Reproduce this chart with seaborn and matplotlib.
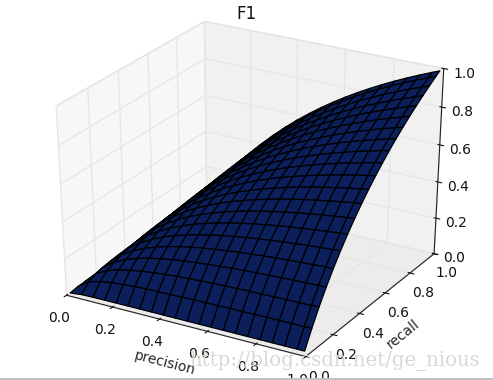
import numpy as np
import pandas as pd
import seaborn as sns
import matplotlib
matplotlib.use("Agg")
import matplotlib.pyplot as plt
from matplotlib.patches import Rectangle

sns.set_style("white")

grid_values = [0.01, 0.06, 0.11, 0.16, 0.21, 0.26, 0.31, 0.36, 0.41, 0.46, 0.51,
               0.56, 0.61, 0.66, 0.71, 0.76, 0.81, 0.86, 0.91, 0.96, 0.99]
# Upper triangle of the F1 surface, in percent, read row by row
f1_rows = [
    [1, 1.71, 1.83, 1.88, 1.91, 1.93, 1.94, 1.95, 1.95, 1.96, 1.96, 1.97, 1.97, 1.97, 1.97, 1.97, 1.98, 1.98, 1.98, 1.98, 1.98],
    [6, 7.76, 8.73, 9.33, 9.75, 10.05, 10.29, 10.47, 10.62, 10.74, 10.84, 10.93, 11.0, 11.06, 11.12, 11.17, 11.22, 11.26, 11.29, 11.31],
    [11, 13.04, 14.44, 15.46, 16.24, 16.85, 17.35, 17.75, 18.10, 18.39, 18.64, 18.86, 19.05, 19.22, 19.37, 19.51, 19.63, 19.74, 19.80],
    [16, 18.16, 19.81, 21.11, 22.15, 23.02, 23.74, 24.36, 24.89, 25.35, 25.76, 26.11, 26.43, 26.72, 26.98, 27.21, 27.43, 27.55],
    [21, 23.23, 25.04, 26.53, 27.77, 28.84, 29.75, 30.55, 31.24, 31.86, 32.41, 32.91, 33.35, 33.76, 34.13, 34.46, 34.65],
    [26, 28.28, 30.19, 31.82, 33.22, 34.44, 35.51, 36.46, 37.30, 38.06, 38.75, 39.36, 39.93, 40.44, 40.92, 41.18],
    [31, 33.31, 35.31, 37.04, 38.56, 39.91, 41.11, 42.19, 43.16, 44.04, 44.84, 45.57, 46.25, 46.87, 47.22],
    [36, 38.34, 40.39, 42.21, 43.83, 45.28, 46.59, 47.78, 48.86, 49.85, 50.75, 51.59, 52.36, 52.80],
    [41, 43.36, 45.46, 47.34, 49.04, 50.58, 51.98, 53.26, 54.44, 55.53, 56.53, 57.46, 57.99],
    [46, 48.37, 50.51, 52.45, 54.21, 55.83, 57.31, 58.68, 59.94, 61.11, 62.20, 62.81],
    [51, 53.38, 55.55, 57.54, 59.36, 61.04, 62.59, 64.03, 65.37, 66.61, 67.32],
    [56, 58.39, 60.59, 62.61, 64.48, 66.22, 67.83, 69.33, 70.74, 71.54],
    [61, 63.40, 65.62, 67.68, 69.59, 71.37, 73.04, 74.60, 75.49],
    [66, 68.41, 70.65, 72.73, 74.68, 76.51, 78.22, 79.20],
    [71, 73.41, 75.67, 77.78, 79.77, 81.63, 82.69],
    [76, 78.42, 80.69, 82.83, 84.84, 85.99],
    [81, 83.43, 85.71, 87.86, 89.10],
    [86, 88.43, 90.73, 92.04],
    [91, 93.43, 94.83],
    [96, 97.48],
    [99],
]
tick_values = [0.0, 0.2, 0.4, 0.6, 0.8, 1.0]
tick_labels = ["0.0", "0.2", "0.4", "0.6", "0.8", "1.0"]
title = "F1"
watermark = "http://blog.csdn.net/ge_nious"

n = len(grid_values)
Z = np.zeros((n, n))
for i, row in enumerate(f1_rows):
    for j, v in enumerate(row):
        Z[i, i + j] = v / 100
        Z[i + j, i] = v / 100
table = pd.DataFrame(Z, index=grid_values, columns=grid_values)
X, Y = np.meshgrid(table.columns.values, table.index.values)

fig = plt.figure(figsize=(4.93, 3.80), dpi=100)
ax = fig.add_axes([0.008, 0.005, 0.985, 1.0], projection="3d")
ax.patch.set_alpha(0)
ax.apply_aspect = lambda position=None: None   # let the cube fill the axes rectangle
ax.view_init(elev=30, azim=-60)
ax.set_box_aspect((1, 1, 1), zoom=0.956)

ax.plot_surface(X, Y, table.values, rstride=1, cstride=1, color="#0a1f5c",
                edgecolor="black", linewidth=0.9, shade=False, antialiased=True)

ax.set_xlim(0, 1); ax.set_ylim(0, 1); ax.set_zlim(0, 1)
for axis, name in ((ax.xaxis, "x"), (ax.yaxis, "y"), (ax.zaxis, "z")):
    axis.set_ticks(tick_values)
    axis.set_ticklabels(tick_labels, fontsize=10, color="#111111")
    axis._axinfo["grid"].update(color="#e6e6e6", linewidth=1.0)
    axis._axinfo["tick"].update(inward_factor=0.2, outward_factor=0.1)
    axis.line.set_color("#222222")
    axis.line.set_linewidth(0.8)
ax.xaxis.set_pane_color((0.97, 0.97, 0.97, 1))
ax.yaxis.set_pane_color((0.945, 0.945, 0.945, 1))
ax.zaxis.set_pane_color((0.925, 0.925, 0.925, 1))
ax.xaxis.pane.set_edgecolor("#e4e4e4")
ax.yaxis.pane.set_edgecolor("#e4e4e4")
ax.zaxis.pane.set_edgecolor("#e4e4e4")
ax.tick_params(axis="both", pad=1, colors="#111111")
ax.set_xlabel("precision", fontsize=10, labelpad=0)
ax.set_ylabel("recall", fontsize=10, labelpad=0)

fig.text(0.5, 0.963, title, ha="center", va="center", fontsize=12, color="#111111")
fig.text(0.385, 0.05, watermark, family="DejaVu Serif", fontsize=14.2,
         color="#d9d9d2", ha="left", va="center")
fig.add_artist(Rectangle((0, 0), 1, 0.006, transform=fig.transFigure,
                         facecolor="#c2c2c2", edgecolor="none"))
fig.savefig("out.png", dpi=100)
